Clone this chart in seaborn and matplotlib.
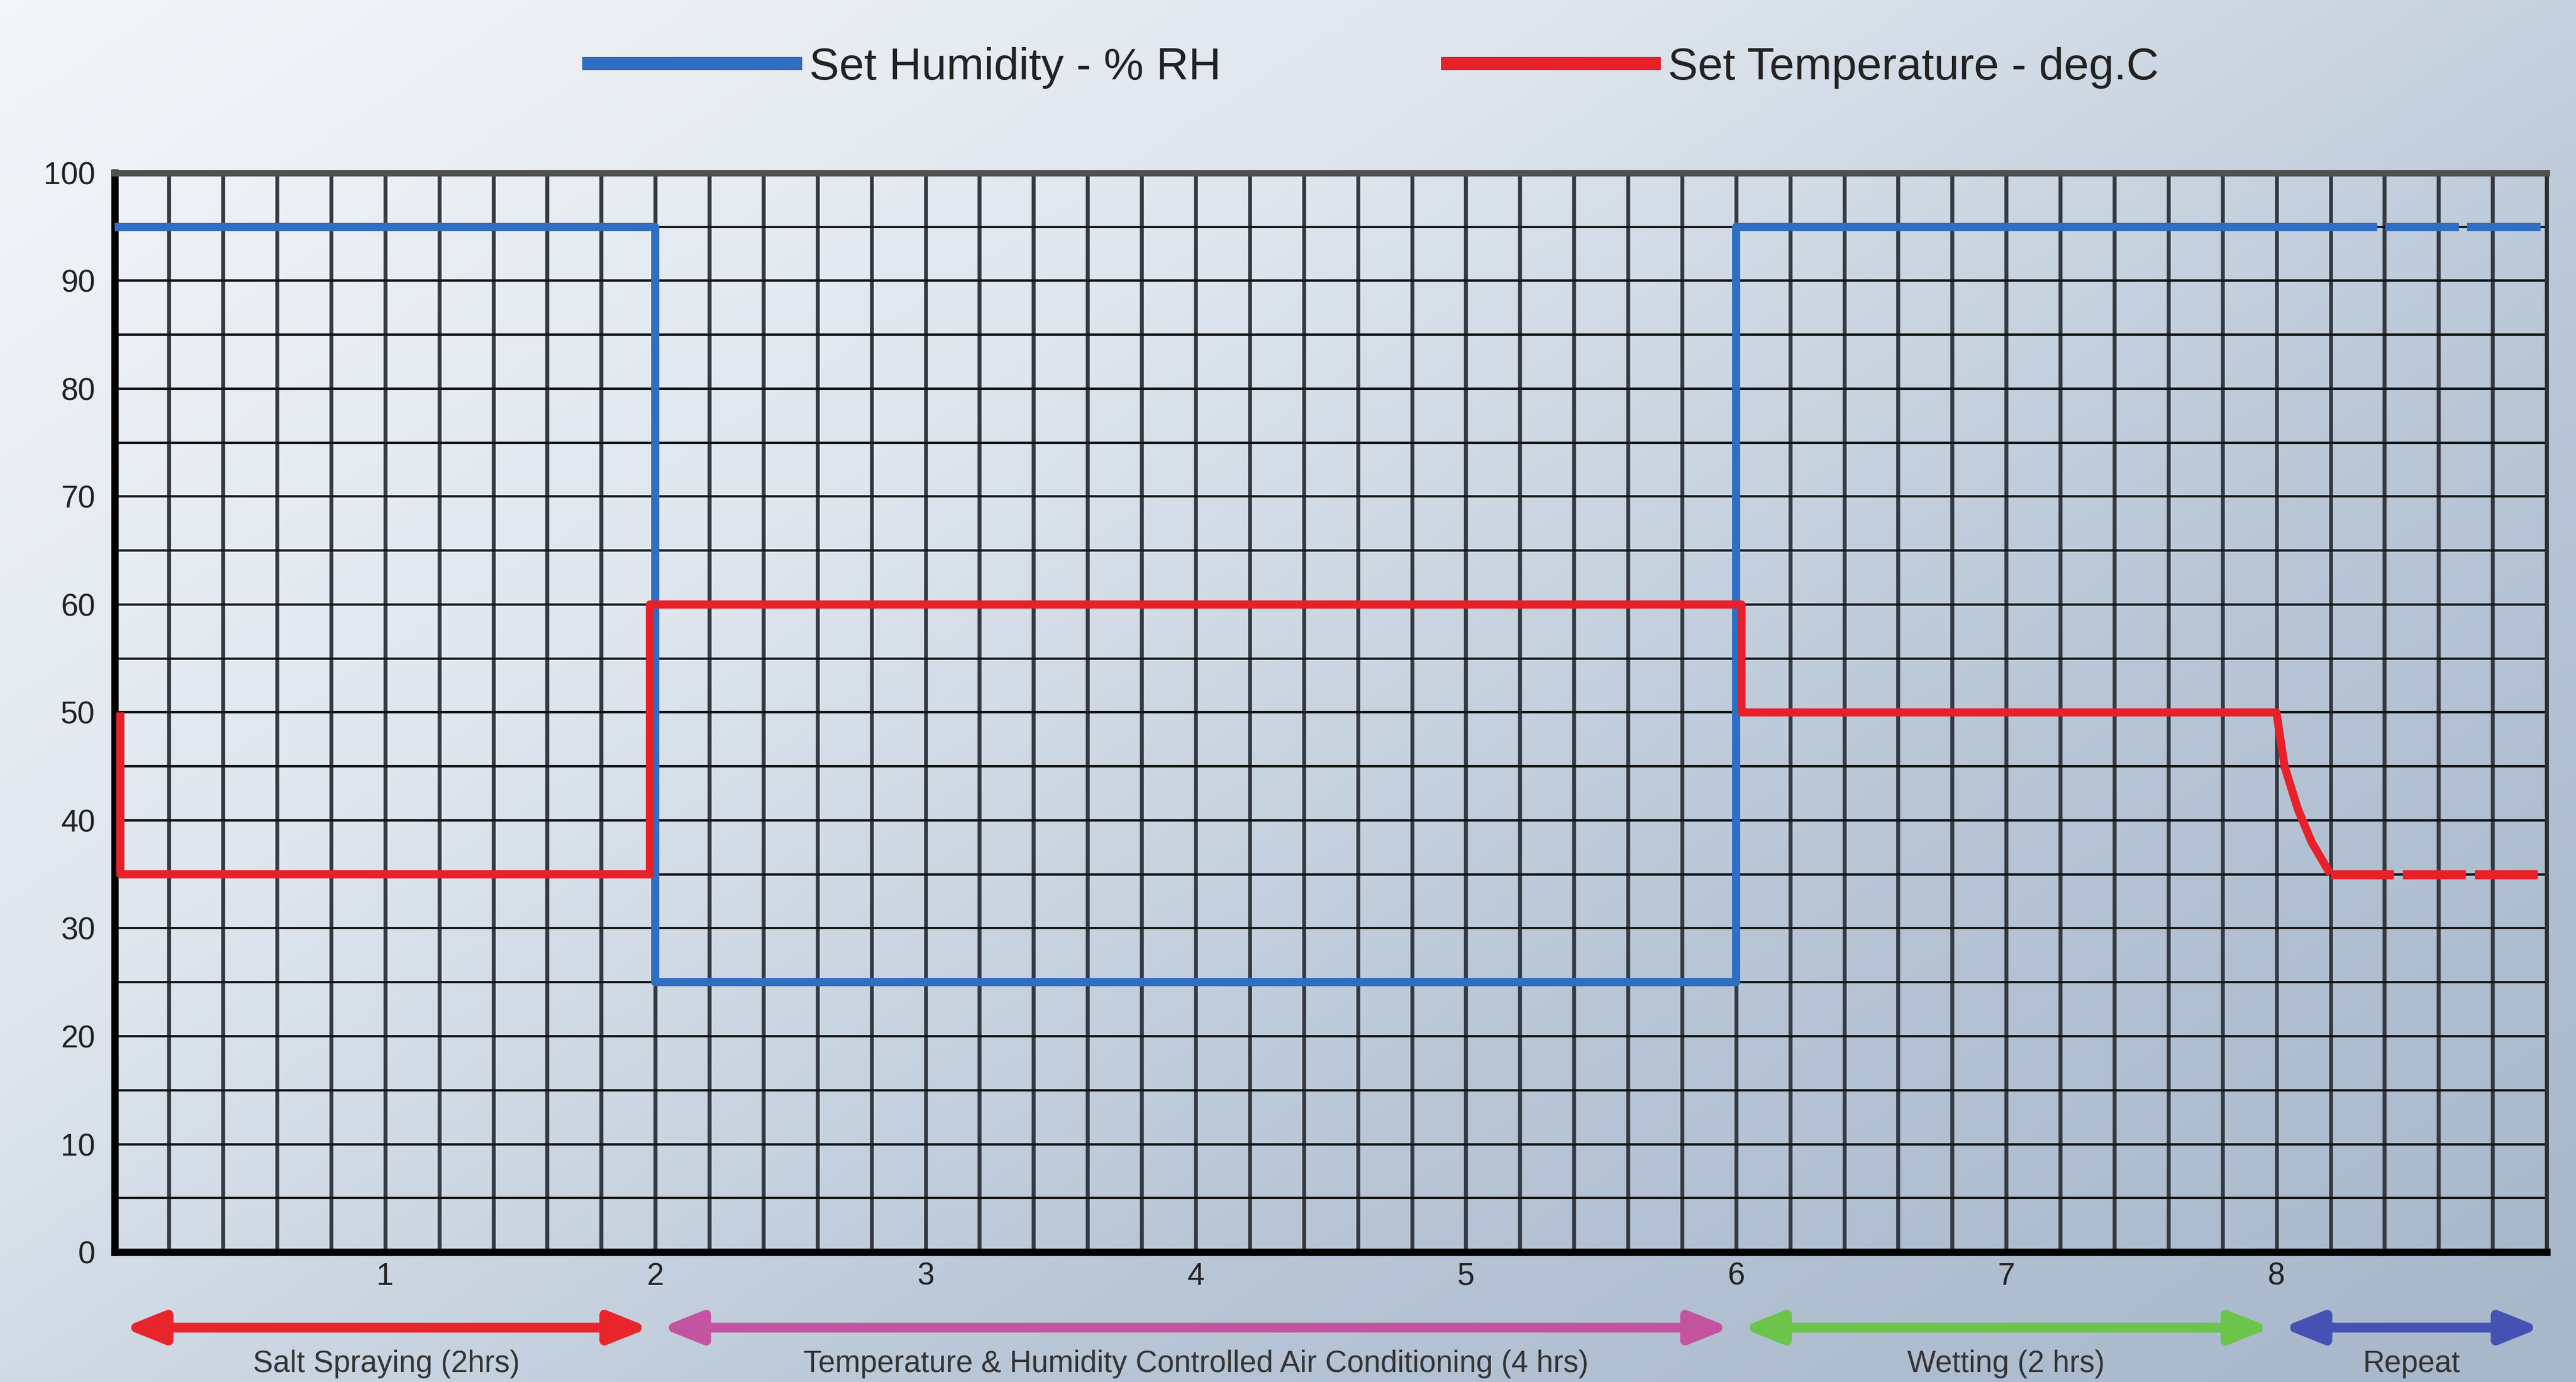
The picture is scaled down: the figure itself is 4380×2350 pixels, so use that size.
import numpy as np
import pandas as pd
import matplotlib.pyplot as plt
import seaborn as sns
from matplotlib.colors import LinearSegmentedColormap
from matplotlib.lines import Line2D

# chart values
hum_x = [0, 2, 2, 6, 6, 8.1]
hum_y = [95, 95, 25, 25, 95, 95]
hum_rep_x = [8.1, 9]
hum_rep_y = [95, 95]

temp_x = [0.02, 0.02, 1.98, 1.98, 6.02, 6.02, 8.0, 8.03, 8.08, 8.13, 8.2]
temp_y = [50, 35, 35, 60, 60, 50, 50, 45, 41, 38, 35]
temp_rep_x = [8.2, 9.0]
temp_rep_y = [35, 35]

x_labels = ['1', '2', '3', '4', '5', '6', '7', '8']
x_label_pos = [1, 2, 3, 4, 5, 6, 7, 8]

phase_names = ['Salt Spraying (2hrs)',
               'Temperature & Humidity Controlled Air Conditioning (4 hrs)',
               'Wetting (2 hrs)', 'Repeat']
phase_start = [0.03, 2.02, 6.02, 8.02]
phase_end = [1.98, 5.98, 7.98, 8.98]
phase_colors = ['#e8252b', '#c4549f', '#6cc44a', '#4652b3']

hum_color = '#2f6ec2'
temp_color = '#e8202a'

sns.set_theme(style='white')
plt.rcParams['font.family'] = ['Liberation Sans', 'DejaVu Sans']

fig = plt.figure(figsize=(21.9, 11.75), dpi=200)

# background gradient over whole figure
bg = fig.add_axes([0, 0, 1, 1], zorder=0)
gx, gy = np.meshgrid(np.linspace(0, 1, 300), np.linspace(0, 1, 300))
grad = 0.55 * gx + 0.45 * gy
cmap = LinearSegmentedColormap.from_list('bg', ['#f4f6f9', '#dfe6ee', '#b8c6d6', '#a7b7ca'])
bg.imshow(grad, cmap=cmap, aspect='auto', extent=[0, 1, 0, 1], origin='upper')
bg.axis('off')

ax = fig.add_axes([0.0446, 0.094, 0.944, 0.781], zorder=1)
ax.set_facecolor('none')

hum = pd.DataFrame({'x': hum_x, 'y': hum_y})
hum_rep = pd.DataFrame({'x': hum_rep_x, 'y': hum_rep_y})
temp = pd.DataFrame({'x': temp_x, 'y': temp_y})
temp_rep = pd.DataFrame({'x': temp_rep_x, 'y': temp_rep_y})

sns.lineplot(data=hum, x='x', y='y', estimator=None, sort=False, ax=ax,
             color=hum_color, lw=5, zorder=3, solid_capstyle='butt')
sns.lineplot(data=hum_rep, x='x', y='y', estimator=None, sort=False, ax=ax,
             color=hum_color, lw=5, zorder=3, linestyle=(0, (9, 1.0)))
sns.lineplot(data=temp, x='x', y='y', estimator=None, sort=False, ax=ax,
             color=temp_color, lw=5, zorder=4, solid_capstyle='butt')
sns.lineplot(data=temp_rep, x='x', y='y', estimator=None, sort=False, ax=ax,
             color=temp_color, lw=5.5, zorder=4, linestyle=(0, (7, 1.0)))

ax.set_xlim(0, 9)
ax.set_ylim(0, 100)
ax.set_xlabel('')
ax.set_ylabel('')

# grid
ax.set_xticks(np.arange(0, 9.01, 0.2), minor=True)
ax.set_yticks(np.arange(0, 100.1, 5), minor=True)
ax.set_xticks(x_label_pos)
ax.set_xticklabels(x_labels)
ax.set_yticks(np.arange(0, 101, 10))
ax.grid(True, which='both', axis='x', color='#353a42', lw=2.4, zorder=1)
ax.grid(True, which='both', axis='y', color='#151515', lw=1.4, zorder=1)
ax.set_axisbelow(True)
ax.tick_params(which='both', length=0)
ax.tick_params(axis='y', labelsize=19, pad=12, labelcolor='#222222')
ax.tick_params(axis='x', labelsize=19, pad=6, labelcolor='#222222')

for side in ['left', 'bottom']:
    ax.spines[side].set_color('black')
    ax.spines[side].set_linewidth(4.5)
ax.spines['top'].set_color('#505050')
ax.spines['top'].set_linewidth(4)
ax.spines['right'].set_color('#303030')
ax.spines['right'].set_linewidth(2.5)

# phase arrows below the axis
for name, x0, x1, c in zip(phase_names, phase_start, phase_end, phase_colors):
    ax.annotate('', xy=(x1, -0.07), xytext=(x0, -0.07),
                xycoords=('data', 'axes fraction'), textcoords=('data', 'axes fraction'),
                arrowprops=dict(arrowstyle='<|-|>,head_length=0.55,head_width=0.22',
                                color=c, lw=6, shrinkA=0, shrinkB=0,
                                mutation_scale=36),
                annotation_clip=False)
    ax.text((x0 + x1) / 2, -0.104, name, transform=ax.get_xaxis_transform(),
            ha='center', va='center', fontsize=18.5, color='#333333')

# legend at top
handles = [Line2D([0], [0], color=hum_color, lw=8, solid_capstyle='butt'),
           Line2D([0], [0], color=temp_color, lw=8, solid_capstyle='butt')]
fig.legend(handles, ['Set Humidity - % RH', 'Set Temperature - deg.C'],
           loc='center', bbox_to_anchor=(0.532, 0.951), ncol=2, frameon=False,
           fontsize=27.5, handlelength=4.9, handletextpad=0.15, columnspacing=4.9,
           labelcolor='#222222')

plt.savefig('out.png', dpi=200)
